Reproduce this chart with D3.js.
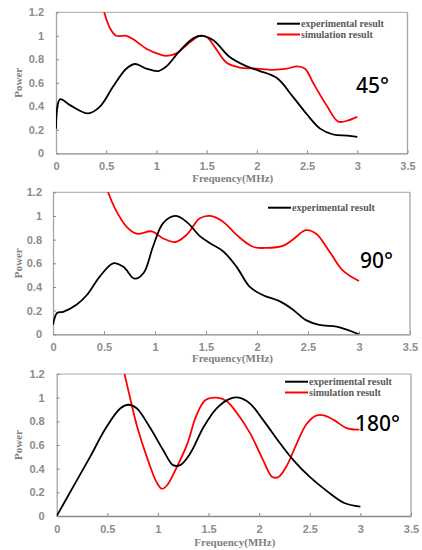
<!DOCTYPE html>
<html>
<head>
<meta charset="utf-8">
<script src="https://cdn.jsdelivr.net/npm/d3@7/dist/d3.min.js"></script>
<style>
  html, body { margin: 0; padding: 0; background: #fff; }
  svg { display: block; }
</style>
</head>
<body>
<svg id="chart" width="422" height="550"></svg>
<script>
// ---------- DATA ----------
const xTicks = [0, 0.5, 1, 1.5, 2, 2.5, 3, 3.5];
const yTicks = [0, 0.2, 0.4, 0.6, 0.8, 1, 1.2];
const seriesNames = ["experimental result", "simulation result"];
const angleLabels = ["45°", "90°", "180°"];

// 45°
const exp45F = [0, 0.04, 0.14, 0.32, 0.44, 0.57, 0.70, 0.79, 0.90, 1.02, 1.10, 1.23, 1.37, 1.46, 1.57, 1.73, 1.90, 2.03, 2.20, 2.36, 2.50, 2.63, 2.76, 2.90, 3.0];
const exp45P = [0.21, 0.46, 0.41, 0.34, 0.40, 0.57, 0.72, 0.76, 0.72, 0.70, 0.74, 0.87, 0.98, 1.0, 0.96, 0.82, 0.74, 0.70, 0.64, 0.48, 0.33, 0.21, 0.16, 0.15, 0.14];
const sim45F = [0.48, 0.54, 0.60, 0.70, 0.77, 0.90, 1.04, 1.10, 1.20, 1.30, 1.43, 1.50, 1.60, 1.70, 1.83, 2.00, 2.16, 2.30, 2.40, 2.48, 2.56, 2.70, 2.81, 2.91, 3.0];
const sim45P = [1.2, 1.06, 1.0, 1.0, 0.97, 0.89, 0.84, 0.83, 0.85, 0.92, 1.0, 0.99, 0.88, 0.77, 0.73, 0.72, 0.71, 0.72, 0.74, 0.72, 0.60, 0.40, 0.27, 0.28, 0.31];

// 90°
const exp90F = [0, 0.04, 0.10, 0.23, 0.33, 0.46, 0.59, 0.69, 0.80, 0.89, 0.98, 1.08, 1.20, 1.31, 1.44, 1.54, 1.67, 1.80, 1.93, 2.06, 2.22, 2.35, 2.48, 2.61, 2.78, 2.91, 3.0];
const exp90P = [0.08, 0.18, 0.19, 0.25, 0.33, 0.49, 0.60, 0.57, 0.47, 0.52, 0.74, 0.94, 1.0, 0.95, 0.83, 0.77, 0.70, 0.57, 0.40, 0.33, 0.28, 0.21, 0.12, 0.08, 0.065, 0.03, 0.0];
const sim90F = [0.54, 0.61, 0.72, 0.82, 0.97, 1.08, 1.20, 1.31, 1.44, 1.54, 1.67, 1.80, 1.96, 2.09, 2.26, 2.35, 2.48, 2.58, 2.71, 2.84, 3.0];
const sim90P = [1.2, 1.06, 0.91, 0.85, 0.87, 0.81, 0.78, 0.84, 0.98, 1.0, 0.95, 0.84, 0.74, 0.73, 0.75, 0.80, 0.88, 0.85, 0.70, 0.54, 0.45];

// 180°
const exp180F = [0, 0.165, 0.33, 0.49, 0.63, 0.71, 0.79, 0.92, 1.05, 1.15, 1.22, 1.32, 1.45, 1.58, 1.71, 1.80, 1.91, 2.04, 2.21, 2.34, 2.50, 2.67, 2.84, 3.0];
const exp180P = [0, 0.25, 0.50, 0.75, 0.91, 0.94, 0.91, 0.75, 0.56, 0.43, 0.43, 0.53, 0.75, 0.91, 0.99, 1.0, 0.95, 0.81, 0.61, 0.47, 0.33, 0.21, 0.11, 0.08];
const sim180F = [0.67, 0.73, 0.79, 0.89, 0.99, 1.04, 1.09, 1.19, 1.29, 1.38, 1.47, 1.58, 1.68, 1.78, 1.91, 2.04, 2.13, 2.19, 2.27, 2.37, 2.47, 2.57, 2.64, 2.74, 2.87, 2.99];
const sim180P = [1.2, 0.98, 0.77, 0.50, 0.28, 0.23, 0.26, 0.42, 0.61, 0.85, 0.98, 1.0, 0.97, 0.87, 0.70, 0.47, 0.33, 0.33, 0.42, 0.61, 0.78, 0.85, 0.85, 0.81, 0.74, 0.73];

// ---------- LAYOUT ----------
const panels = [
  { x0: 56, x1: 407.5, yTop: 12.3, yBot: 153.3, lab: 12, titleY: 182,
    exp: [exp45F, exp45P], sim: [sim45F, sim45P], legendN: 2,
    legX: 277, legY: 23.7, angle: angleLabels[0], ax: 356, ay: 93 },
  { x0: 53, x1: 410, yTop: 192.3, yBot: 334.3, lab: 11, titleY: 362,
    exp: [exp90F, exp90P], sim: [sim90F, sim90P], legendN: 1,
    legX: 268, legY: 207.7, angle: angleLabels[1], ax: 360, ay: 268 },
  { x0: 56.7, x1: 411, yTop: 374, yBot: 516, lab: 12, titleY: 546,
    exp: [exp180F, exp180P], sim: [sim180F, sim180P], legendN: 2,
    legX: 285, legY: 381.7, angle: angleLabels[2], ax: 355, ay: 431 }
];

const svg = d3.select("#chart");
const grey = "#8c8c8c";
const frameCol = "#a6a6a6";

panels.forEach((p, i) => {
  const x = d3.scaleLinear().domain([0, 3.5]).range([p.x0, p.x1]);
  const y = d3.scaleLinear().domain([0, 1.2]).range([p.yBot, p.yTop]);
  const g = svg.append("g");

  const cid = "clip" + i;
  svg.append("clipPath").attr("id", cid).append("rect")
    .attr("x", p.x0).attr("y", p.yTop - 1).attr("width", p.x1 - p.x0).attr("height", p.yBot - p.yTop + 1);

  g.append("line").attr("x1", p.x0).attr("x2", p.x1).attr("y1", p.yTop).attr("y2", p.yTop)
    .attr("stroke", frameCol).attr("stroke-width", 1);
  g.append("line").attr("x1", p.x1).attr("x2", p.x1).attr("y1", p.yTop).attr("y2", p.yBot)
    .attr("stroke", frameCol).attr("stroke-width", 1.3);

  const xa = g.append("g").attr("transform", `translate(0,${p.yBot})`)
    .call(d3.axisBottom(x).tickValues(xTicks).tickSizeInner(-3).tickSizeOuter(0).tickPadding(9)
      .tickFormat(d => d3.format("")(d)));
  xa.select(".domain").attr("stroke", "#8a8a8a").attr("stroke-width", 1.3);
  xa.selectAll(".tick line").attr("stroke", "#8a8a8a");
  xa.selectAll(".tick text").attr("fill", grey).attr("font-family", "Liberation Sans, Arial, sans-serif")
    .attr("font-size", 11).attr("font-weight", "bold");

  const ya = g.append("g").attr("transform", `translate(${p.x0},0)`)
    .call(d3.axisLeft(y).tickValues(yTicks).tickSizeInner(-3).tickSizeOuter(0).tickPadding(p.lab)
      .tickFormat(d => d3.format("")(+d.toFixed(1))));
  ya.select(".domain").attr("stroke", frameCol).attr("stroke-width", 1.3);
  ya.selectAll(".tick line").attr("stroke", "#8a8a8a");
  ya.selectAll(".tick text").attr("fill", grey).attr("font-family", "Liberation Sans, Arial, sans-serif")
    .attr("font-size", 11).attr("font-weight", "bold");

  g.append("text").attr("x", (x(0) + x(3.5)) / 2 + 1).attr("y", p.titleY)
    .attr("text-anchor", "middle").attr("fill", "#808080")
    .attr("font-family", "Liberation Serif, 'Times New Roman', serif").attr("font-weight", "bold")
    .attr("font-size", 11).text("Frequency(MHz)");
  g.append("text").attr("transform", `translate(${22},${(p.yTop + p.yBot) / 2}) rotate(-90)`)
    .attr("text-anchor", "middle").attr("fill", "#808080")
    .attr("font-family", "Liberation Serif, 'Times New Roman', serif").attr("font-weight", "bold")
    .attr("font-size", 11).text("Power");

  const line = d3.line().x(d => x(d[0])).y(d => y(d[1])).curve(d3.curveCatmullRom.alpha(0.5));
  const simPts = p.sim[0].map((f, k) => [f, p.sim[1][k]]);
  const expPts = p.exp[0].map((f, k) => [f, p.exp[1][k]]);
  g.append("path").datum(simPts).attr("d", line).attr("fill", "none")
    .attr("stroke", "#ff0000").attr("stroke-width", 1.8).attr("clip-path", `url(#${cid})`);
  g.append("path").datum(expPts).attr("d", line).attr("fill", "none")
    .attr("stroke", "#000").attr("stroke-width", 1.8).attr("clip-path", `url(#${cid})`);

  const cols = ["#000", "#ff0000"];
  for (let k = 0; k < p.legendN; k++) {
    const ly = p.legY + k * 10.8;
    g.append("line").attr("x1", p.legX).attr("x2", p.legX + 23).attr("y1", ly).attr("y2", ly)
      .attr("stroke", cols[k]).attr("stroke-width", 2);
    g.append("text").attr("x", p.legX + 24).attr("y", ly + 3.5)
      .attr("fill", "#595959").attr("font-family", "Liberation Serif, 'Times New Roman', serif")
      .attr("font-weight", "bold").attr("font-size", 10).text(seriesNames[k]);
  }

  g.append("text").attr("x", p.ax).attr("y", p.ay).attr("fill", "#000")
    .attr("font-family", "'Noto Sans', 'Liberation Sans', Arial, sans-serif").attr("font-size", 21)
    .attr("font-weight", 500)
    .text(p.angle);
});
</script>
</body>
</html>
